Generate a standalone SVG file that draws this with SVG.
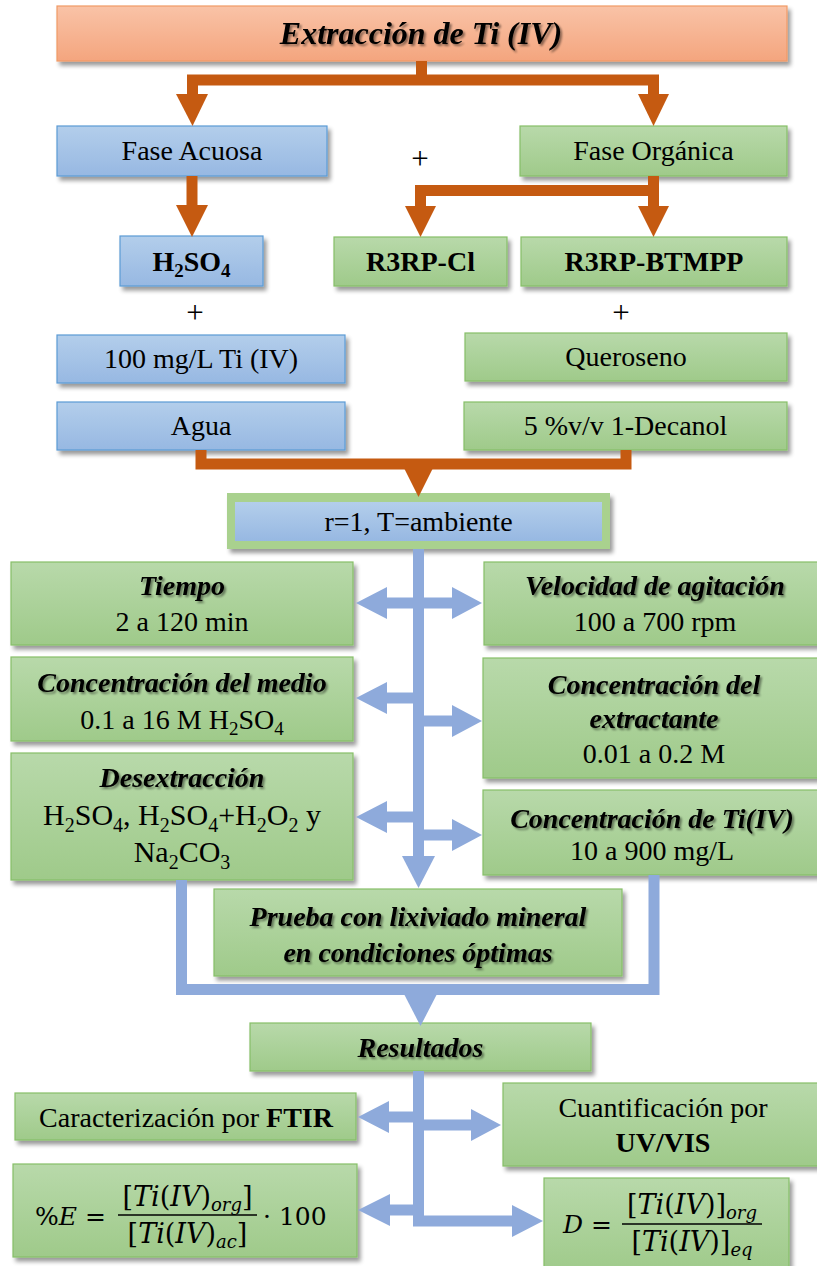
<svg xmlns="http://www.w3.org/2000/svg" width="817" height="1266" viewBox="0 0 817 1266">
<defs>
  <linearGradient id="gO" x1="0" y1="0" x2="0" y2="1"><stop offset="0" stop-color="#f9c3a7"/><stop offset="1" stop-color="#f4a57e"/></linearGradient>
  <linearGradient id="gB" x1="0" y1="0" x2="0" y2="1"><stop offset="0" stop-color="#b3ceeb"/><stop offset="1" stop-color="#97b8e2"/></linearGradient>
  <linearGradient id="gG" x1="0" y1="0" x2="0" y2="1"><stop offset="0" stop-color="#b8d9aa"/><stop offset="1" stop-color="#9fca8a"/></linearGradient>
  <filter id="sh" x="-10%" y="-20%" width="125%" height="150%">
    <feGaussianBlur in="SourceAlpha" stdDeviation="2.2"/>
    <feOffset dx="3" dy="4"/>
    <feComponentTransfer><feFuncA type="linear" slope="0.4"/></feComponentTransfer>
    <feMerge><feMergeNode/><feMergeNode in="SourceGraphic"/></feMerge>
  </filter>
  <filter id="ts" x="-10%" y="-30%" width="125%" height="170%">
    <feGaussianBlur in="SourceAlpha" stdDeviation="1.3"/>
    <feOffset dx="2" dy="2"/>
    <feComponentTransfer><feFuncA type="linear" slope="0.45"/></feComponentTransfer>
    <feMerge><feMergeNode/><feMergeNode in="SourceGraphic"/></feMerge>
  </filter>
</defs>
<style>
  .box{filter:url(#sh);stroke-width:1.2}
  .o{fill:url(#gO);stroke:#f09a66}
  .b{fill:url(#gB);stroke:#5b9bd5}
  .g{fill:url(#gG);stroke:#86bf68}
  text{font-family:"Liberation Serif","Times New Roman",serif;font-size:28px;fill:#000;text-anchor:middle}
  .bi{font-weight:bold;font-style:italic;filter:url(#ts)}
  .bd{font-weight:bold}
  .pl{font-size:31px}
  .m{font-family:"DejaVu Serif",serif;font-size:25px;text-anchor:start}
  .mc{font-family:"DejaVu Serif",serif;font-size:27px;text-anchor:middle}
  .it{font-style:italic}
  .oc{stroke:#c55a11;stroke-width:11;fill:none;stroke-linejoin:miter}
  .oh{fill:#c55a11}
  .bc{stroke:#8eaadb;stroke-width:11;fill:none;stroke-linejoin:miter}
  .bh{fill:#8eaadb}
</style>

<!-- nodes -->
<g id="n-title"><rect class="box o" x="57" y="6" width="730" height="55"/><text class="bi" x="421" y="44" style="font-size:32px">Extracción de Ti (IV)</text></g>
<g id="n-acuosa"><rect class="box b" x="57" y="126" width="270" height="50"/><text x="192" y="160">Fase Acuosa</text></g>
<g id="n-plus1"><text class="pl" x="420" y="169">+</text></g>
<g id="n-organica"><rect class="box g" x="520" y="126" width="267" height="50"/><text x="653.5" y="160">Fase Orgánica</text></g>
<g id="n-h2so4"><rect class="box b" x="120" y="236" width="143" height="50"/><text class="bd" x="191.5" y="271">H<tspan dy="6" font-size="19">2</tspan><tspan dy="-6">SO</tspan><tspan dy="6" font-size="19">4</tspan></text></g>
<g id="n-r3rpcl"><rect class="box g" x="334" y="237" width="173" height="49"/><text class="bd" x="420.5" y="271">R3RP-Cl</text></g>
<g id="n-btmpp"><rect class="box g" x="521" y="237" width="266" height="49"/><text class="bd" x="654" y="271">R3RP-BTMPP</text></g>
<g id="n-plus2"><text class="pl" x="195" y="323">+</text></g>
<g id="n-plus3"><text class="pl" x="621" y="323">+</text></g>
<g id="n-ti"><rect class="box b" x="57" y="335" width="288" height="48"/><text x="201" y="368">100 mg/L Ti (IV)</text></g>
<g id="n-queroseno"><rect class="box g" x="465" y="333" width="322" height="48"/><text x="626" y="366">Queroseno</text></g>
<g id="n-agua"><rect class="box b" x="57" y="402" width="288" height="48"/><text x="201" y="435">Agua</text></g>
<g id="n-decanol"><rect class="box g" x="464" y="402" width="323" height="48"/><text x="625.5" y="435">5 %v/v 1-Decanol</text></g>
<g id="n-cond"><rect x="227" y="493" width="383" height="56" fill="#a9d18e" filter="url(#sh)"/><rect x="235" y="502" width="367" height="39" fill="url(#gB)"/><text x="418.5" y="531">r=1, T=ambiente</text></g>

<g id="n-tiempo"><rect class="box g" x="11" y="562" width="342" height="83"/><text class="bi" x="182" y="595">Tiempo</text><text x="182" y="631">2 a 120 min</text></g>
<g id="n-velocidad"><rect class="box g" x="484" y="562" width="345" height="83"/><text class="bi" x="655" y="595">Velocidad de agitación</text><text x="655" y="631">100 a 700 rpm</text></g>
<g id="n-medio"><rect class="box g" x="11" y="657" width="342" height="84"/><text class="bi" x="182" y="692">Concentración del medio</text><text x="182" y="729">0.1 a 16 M H<tspan dy="6" font-size="19">2</tspan><tspan dy="-6">SO</tspan><tspan dy="6" font-size="19">4</tspan></text></g>
<g id="n-extractante"><rect class="box g" x="483" y="658" width="345" height="120"/><text class="bi" x="654" y="694">Concentración del</text><text class="bi" x="654" y="728">extractante</text><text x="654" y="763">0.01 a 0.2 M</text></g>
<g id="n-desextraccion"><rect class="box g" x="11" y="753" width="342" height="127"/><text class="bi" x="182" y="787">Desextracción</text>
  <text x="182" y="825" style="font-size:30px">H<tspan dy="7" font-size="20">2</tspan><tspan dy="-7">SO</tspan><tspan dy="7" font-size="20">4</tspan><tspan dy="-7">, H</tspan><tspan dy="7" font-size="20">2</tspan><tspan dy="-7">SO</tspan><tspan dy="7" font-size="20">4</tspan><tspan dy="-7">+H</tspan><tspan dy="7" font-size="20">2</tspan><tspan dy="-7">O</tspan><tspan dy="7" font-size="20">2</tspan><tspan dy="-7"> y</tspan></text>
  <text x="182" y="862" style="font-size:30px">Na<tspan dy="7" font-size="20">2</tspan><tspan dy="-7">CO</tspan><tspan dy="7" font-size="20">3</tspan></text></g>
<g id="n-conc-ti"><rect class="box g" x="483" y="790" width="345" height="85"/><text class="bi" x="652" y="828">Concentración de Ti(IV)</text><text x="652" y="860">10 a 900 mg/L</text></g>
<g id="n-prueba"><rect class="box g" x="214" y="889" width="408" height="87"/><text class="bi" x="418" y="926">Prueba con lixiviado mineral</text><text class="bi" x="418" y="962">en condiciones óptimas</text></g>
<g id="n-resultados"><rect class="box g" x="250" y="1023" width="341" height="48"/><text class="bi" x="420.5" y="1057">Resultados</text></g>
<g id="n-ftir"><rect class="box g" x="15" y="1093" width="341" height="47"/><text x="186" y="1127">Caracterización por <tspan class="bd">FTIR</tspan></text></g>
<g id="n-uvvis"><rect class="box g" x="503" y="1083" width="325" height="83"/><text x="663" y="1117">Cuantificación por</text><text class="bd" x="663" y="1152">UV/VIS</text></g>

<g id="n-porcentaje"><rect class="box g" x="13" y="1164" width="344" height="93"/>
  <text class="m" x="35" y="1225">%<tspan class="it">E</tspan> =</text>
  <text class="mc" x="187.5" y="1206">[<tspan class="it">Ti</tspan>(<tspan class="it">IV</tspan>)<tspan class="it" font-size="18" dy="5">org</tspan><tspan dy="-5">]</tspan></text>
  <line x1="118" y1="1215" x2="257" y2="1215" stroke="#000" stroke-width="1.3"/>
  <text class="mc" x="187.5" y="1243">[<tspan class="it">Ti</tspan>(<tspan class="it">IV</tspan>)<tspan class="it" font-size="18" dy="5">ac</tspan><tspan dy="-5">]</tspan></text>
  <text class="m" x="263" y="1225">· 100</text>
</g>
<g id="n-distribucion"><rect class="box g" x="544" y="1178" width="245" height="95"/>
  <text class="m" x="563" y="1233"><tspan class="it">D</tspan> =</text>
  <text class="mc" x="692" y="1214">[<tspan class="it">Ti</tspan>(<tspan class="it">IV</tspan>)]<tspan class="it" font-size="18" dy="5">org</tspan></text>
  <line x1="622" y1="1224" x2="762" y2="1224" stroke="#000" stroke-width="1.3"/>
  <text class="mc" x="692" y="1251">[<tspan class="it">Ti</tspan>(<tspan class="it">IV</tspan>)]<tspan class="it" font-size="18" dy="5">eq</tspan></text>
</g>

<!-- connectors -->
<g id="connectors">
  <!-- orange: preparation stage -->
  <path class="oc" d="M421.5,61 V80 M192.5,96 V80 H653.5 V96"/>
  <polygon class="oh" points="176,94 208,94 192.5,126"/>
  <polygon class="oh" points="638,94 669,94 653.5,126"/>
  <path class="oc" d="M192,176 V207"/>
  <polygon class="oh" points="176,205 208,205 192,237"/>
  <path class="oc" d="M653.5,176 V208 M420.5,208 V190.5 H653.5"/>
  <polygon class="oh" points="405,206 436,206 420.5,237"/>
  <polygon class="oh" points="638,206 669,206 653.5,237"/>
  <path class="oc" d="M201,450 V464 H626 V450"/>
  <polygon class="oh" points="404,468 433,468 418.5,497"/>

  <!-- blue: parameter study -->
  <path class="bc" d="M418.5,549 V858"/>
  <polygon class="bh" points="402,856 435,856 418.5,888"/>
  <path class="bc" d="M387,603 H452"/>
  <polygon class="bh" points="387,587 387,619 356,603"/>
  <polygon class="bh" points="452,587 452,619 482,603"/>
  <path class="bc" d="M387,698 H419"/>
  <polygon class="bh" points="387,682 387,714 356,698"/>
  <path class="bc" d="M418,721 H452"/>
  <polygon class="bh" points="452,705 452,737 482,721"/>
  <path class="bc" d="M387,817 H419"/>
  <polygon class="bh" points="387,801 387,833 356,817"/>
  <path class="bc" d="M418,835 H452"/>
  <polygon class="bh" points="452,819 452,851 482,835"/>
  <path class="bc" d="M181.5,880 V989.5 H654 V875"/>
  <polygon class="bh" points="404,994 437,994 420.5,1026"/>

  <!-- blue: results -->
  <path class="bc" d="M418.5,1071 V1221 H513"/>
  <polygon class="bh" points="512,1205 512,1237 543,1221"/>
  <path class="bc" d="M389,1117 H419"/>
  <polygon class="bh" points="389,1101 389,1133 358,1117"/>
  <path class="bc" d="M418,1125 H472"/>
  <polygon class="bh" points="471,1109 471,1141 501,1125"/>
  <path class="bc" d="M390,1210 H419"/>
  <polygon class="bh" points="390,1194 390,1226 358,1210"/>
</g>
</svg>
